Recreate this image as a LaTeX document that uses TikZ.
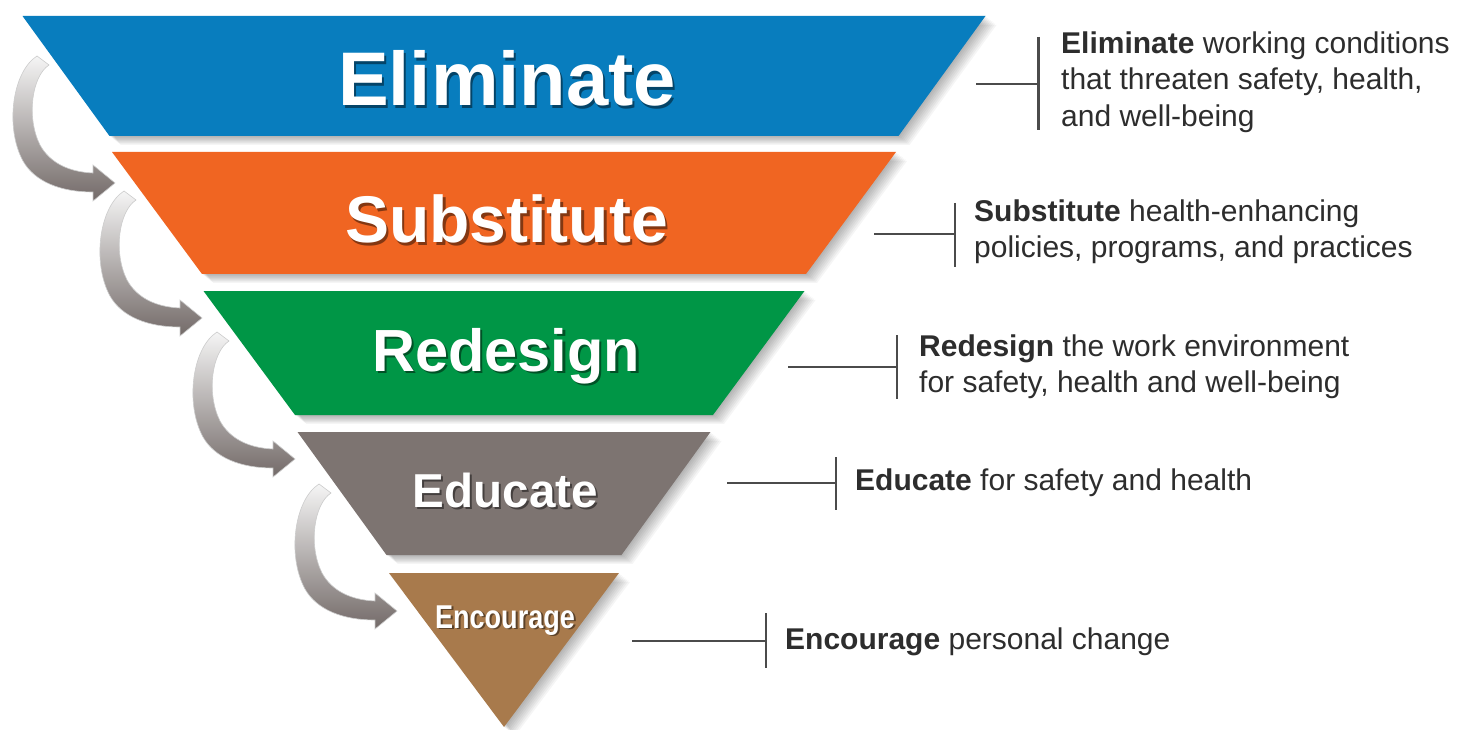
\documentclass[tikz,border=0pt]{standalone}
\usepackage{fontspec}
\setmainfont{Liberation Sans}
\definecolor{cBlue}{RGB}{8,125,190}
\definecolor{cOrange}{RGB}{240,101,34}
\definecolor{cGreen}{RGB}{0,150,70}
\definecolor{cGrey}{RGB}{125,116,113}
\definecolor{cBrown}{RGB}{168,122,76}
\definecolor{txt}{RGB}{45,45,45}
\definecolor{lin}{RGB}{75,75,75}
\definecolor{arrDark}{RGB}{115,106,104}
\newcommand\myband[5]{%
  \foreach \s in {1,...,8}{%
    \fill[black,opacity=0.04] ({504-#4+1.4*\s},{#2+1.1*\s}) -- ({504+#4+1.4*\s},{#2+1.1*\s}) -- ({504+#5+1.4*\s},{#3+1.1*\s}) -- ({504-#5+1.4*\s},{#3+1.1*\s}) -- cycle;}
  \fill[#1] ({504-#4},#2) -- ({504+#4},#2) -- ({504+#5},#3) -- ({504-#5},#3) -- cycle;}
\begin{document}
\begin{tikzpicture}[x=1pt,y=-1pt,
  ttl/.style={anchor=base,inner sep=0,text=white},
  ttlsh/.style={anchor=base,inner sep=0,text=black,opacity=0.45},
  desc/.style={anchor=west,inner sep=0,align=left,text=txt,font=\fontsize{30}{36.5}\selectfont},
  conn/.style={draw=lin,line width=2.5pt},
  swoop/.pic={
    \path[top color=gray!8,middle color=gray!45,bottom color=arrDark,draw=gray!40,line width=0.6pt]
      (6,3) .. controls (-11,14) and (-17,55) .. (-3,83)
      .. controls (7,101) and (26,110) .. (50,111) -- (50,103) -- (72,121) -- (50,139) -- (50,130)
      .. controls (18,130) and (-8,120) .. (-20,99)
      .. controls (-38,66) and (-31,10) .. (-6,-6) -- cycle;}
]
\useasboundingbox (0,0) rectangle (1457,730);
\fill[white] (0,0) rectangle (1457,730);

% curved arrows
\pic at (43,62) {swoop};
\pic at (130,197) {swoop};
\pic at (223,338) {swoop};
\pic at (325,490) {swoop};

% bands
\myband{cBlue}{16}{136}{481.5}{394.5}
\myband{cOrange}{152}{274}{392}{302}
\myband{cGreen}{291}{415}{300.5}{209}
\myband{cGrey}{432}{555}{206.5}{117.5}
\myband{cBrown}{573}{727}{115}{0}

% titles
\node[ttlsh] (t1s) at (509,108.5) {\fontsize{76}{76}\selectfont\bfseries Eliminate};
\node[ttl] (t1) at (507,106) {\fontsize{76}{76}\selectfont\bfseries Eliminate};
\node[ttlsh] (t2s) at (509,245.5) {\fontsize{66}{66}\selectfont\bfseries Substitute};
\node[ttl] (t2) at (506.5,243) {\fontsize{66}{66}\selectfont\bfseries Substitute};
\node[ttlsh] (t3s) at (508.5,373.5) {\fontsize{59.5}{59.5}\selectfont\bfseries Redesign};
\node[ttl] (t3) at (506,371) {\fontsize{59.5}{59.5}\selectfont\bfseries Redesign};
\node[ttlsh] (t4s) at (507.5,509) {\fontsize{47.6}{47.6}\selectfont\bfseries Educate};
\node[ttl] (t4) at (505.5,507) {\fontsize{47.6}{47.6}\selectfont\bfseries Educate};
\node[ttlsh] (t5s) at (507,629.5) {\scalebox{0.82}[1]{\fontsize{33}{33}\selectfont\bfseries Encourage}};
\node[ttl] (t5) at (505,628) {\scalebox{0.82}[1]{\fontsize{33}{33}\selectfont\bfseries Encourage}};

% descriptions
\node[desc] (d1) at (1061,82) {\textbf{Eliminate} working conditions\\that threaten safety, health,\\and well-being};
\node[desc] (d2) at (974,231.5) {\textbf{Substitute} health-enhancing\\policies, programs, and practices};
\node[desc] (d3) at (919,366.5) {\textbf{Redesign} the work environment\\for safety, health and well-being};
\node[desc] (d4) at (855,483) {\textbf{Educate} for safety and health};
\node[desc] (d5) at (785,642) {\textbf{Encourage} personal change};

% brackets
\coordinate (h1) at (976,84);  \coordinate (b1) at (1038.5,84);
\coordinate (h2) at (874,234); \coordinate (b2) at (955,234);
\coordinate (h3) at (788,367); \coordinate (b3) at (897,367);
\coordinate (h4) at (727,483); \coordinate (b4) at (836,483);
\coordinate (h5) at (632,641); \coordinate (b5) at (766,641);
\draw[conn] (h1) -- (b1); \draw[conn] ([yshift=47pt]b1) -- ([yshift=-46pt]b1);
\draw[conn] (h2) -- (b2); \draw[conn] ([yshift=31pt]b2) -- ([yshift=-33pt]b2);
\draw[conn] (h3) -- (b3); \draw[conn] ([yshift=32pt]b3) -- ([yshift=-32pt]b3);
\draw[conn] (h4) -- (b4); \draw[conn] ([yshift=26pt]b4) -- ([yshift=-27pt]b4);
\draw[conn] (h5) -- (b5); \draw[conn] ([yshift=28pt]b5) -- ([yshift=-27pt]b5);
\end{tikzpicture}
\end{document}
